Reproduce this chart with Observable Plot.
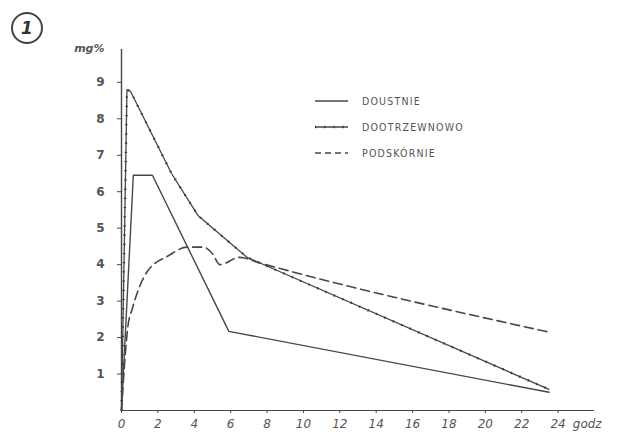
<!DOCTYPE html>
<html>
<head>
<meta charset="utf-8">
<script src="https://cdn.jsdelivr.net/npm/d3@7"></script>
<script src="https://cdn.jsdelivr.net/npm/@observablehq/plot@0.6"></script>
<style>
  html, body { margin: 0; padding: 0; background: #fff; }
  #wrap { position: relative; width: 617px; height: 437px; overflow: hidden; }
  .legend { position: absolute; left: 315px; top: 88px; font-family: "DejaVu Sans Condensed", "DejaVu Sans", sans-serif; font-size: 10.5px; color: #555; letter-spacing: 1.2px; }
  .legend .row { display: flex; align-items: center; height: 26px; }
  .legend svg { margin-right: 14px; }
  .badge { position: absolute; left: 11px; top: 12px; width: 28px; height: 28px; border: 2px solid #444; border-radius: 50%; font-family: "DejaVu Sans", sans-serif; font-style: italic; font-weight: bold; font-size: 17px; color: #333; display: flex; align-items: center; justify-content: center; }
</style>
</head>
<body>
<div id="wrap"></div>
<script>
// Data (hours vs mg%)
const doustnieHours = [0, 0.65, 1.7, 5.9, 23.5];
const doustnieValues = [0, 6.45, 6.45, 2.17, 0.5];

const dootrzewnowoHours = [0, 0.3, 0.5, 2.75, 4.2, 6.9, 23.5];
const dootrzewnowoValues = [0, 8.8, 8.75, 6.5, 5.35, 4.2, 0.58];

const podskornieHours = [0, 0.35, 0.6, 1.4, 2.6, 3.6, 4.5, 5.0, 5.4, 6.5, 7.5, 23.5];
const podskornieValues = [0, 2.3, 2.8, 3.8, 4.25, 4.48, 4.48, 4.3, 4.0, 4.2, 4.06, 2.15];

const seriesNames = ["DOUSTNIE", "DOOTRZEWNOWO", "PODSKÓRNIE"];
const xTicks = [0, 2, 4, 6, 8, 10, 12, 14, 16, 18, 20, 22, 24];
const yTicks = [1, 2, 3, 4, 5, 6, 7, 8, 9];
const xUnit = "godz";
const yUnit = "mg%";

const toRows = (hs, vs) => hs.map((h, i) => ({h, v: vs[i]}));
const doustnie = toRows(doustnieHours, doustnieValues);
const dootrzewnowo = toRows(dootrzewnowoHours, dootrzewnowoValues);
const podskornie = toRows(podskornieHours, podskornieValues);

const ink = "#474747";

const chart = Plot.plot({
  width: 617,
  height: 437,
  marginLeft: 121,
  marginRight: 23,
  marginTop: 49,
  marginBottom: 27,
  style: {background: "#fff", color: "#555", fontFamily: "DejaVu Sans, sans-serif"},
  x: {domain: [0, 26]},
  y: {domain: [0, 9.9]},
  marks: [
    Plot.ruleX([0], {stroke: ink, strokeWidth: 1.4}),
    Plot.ruleY([0], {stroke: ink, strokeWidth: 1.2}),
    Plot.axisY({ticks: yTicks, tickSize: 4, tickPadding: 13, fontSize: 12, fontWeight: "bold", stroke: ink, label: null}),
    Plot.axisY({ticks: [9.93], tickSize: 0, tickPadding: 17, fontSize: 11, fontStyle: "italic", fontWeight: "bold", tickFormat: () => yUnit, label: null}),
    Plot.axisX({ticks: xTicks, tickSize: 3, tickPadding: 6, fontSize: 12, fontStyle: "italic", stroke: ink, label: null}),
    Plot.axisX({ticks: [25.6], tickSize: 0, tickPadding: 9, fontSize: 12, fontStyle: "italic", tickFormat: () => xUnit, label: null}),
    Plot.line(doustnie, {x: "h", y: "v", stroke: ink, strokeWidth: 1.4}),
    Plot.line(dootrzewnowo, {x: "h", y: "v", stroke: ink, strokeWidth: 1.3}),
    Plot.line(dootrzewnowo, {x: "h", y: "v", stroke: "#333", strokeWidth: 2.4, strokeDasharray: "1.2,8", strokeLinecap: "butt"}),
    Plot.line(podskornie, {x: "h", y: "v", stroke: ink, strokeWidth: 1.6, strokeDasharray: "9,5", curve: "monotone-x"})
  ]
});

const wrap = document.getElementById("wrap");
wrap.appendChild(chart);

const badge = document.createElement("div");
badge.className = "badge";
badge.textContent = "1";
wrap.appendChild(badge);

const legend = document.createElement("div");
legend.className = "legend";
const swatchStyles = [
  `<line x1="0" y1="5" x2="33" y2="5" stroke="${ink}" stroke-width="1.4"/>`,
  `<line x1="0" y1="5" x2="33" y2="5" stroke="${ink}" stroke-width="1.3"/><line x1="0" y1="5" x2="33" y2="5" stroke="#333" stroke-width="2.4" stroke-dasharray="1.2,8"/>`,
  `<line x1="0" y1="5" x2="33" y2="5" stroke="${ink}" stroke-width="1.6" stroke-dasharray="6,4"/>`
];
seriesNames.forEach((name, i) => {
  const row = document.createElement("div");
  row.className = "row";
  row.innerHTML = `<svg width="33" height="10">${swatchStyles[i]}</svg><span>${name}</span>`;
  legend.appendChild(row);
});
wrap.appendChild(legend);
</script>
</body>
</html>
